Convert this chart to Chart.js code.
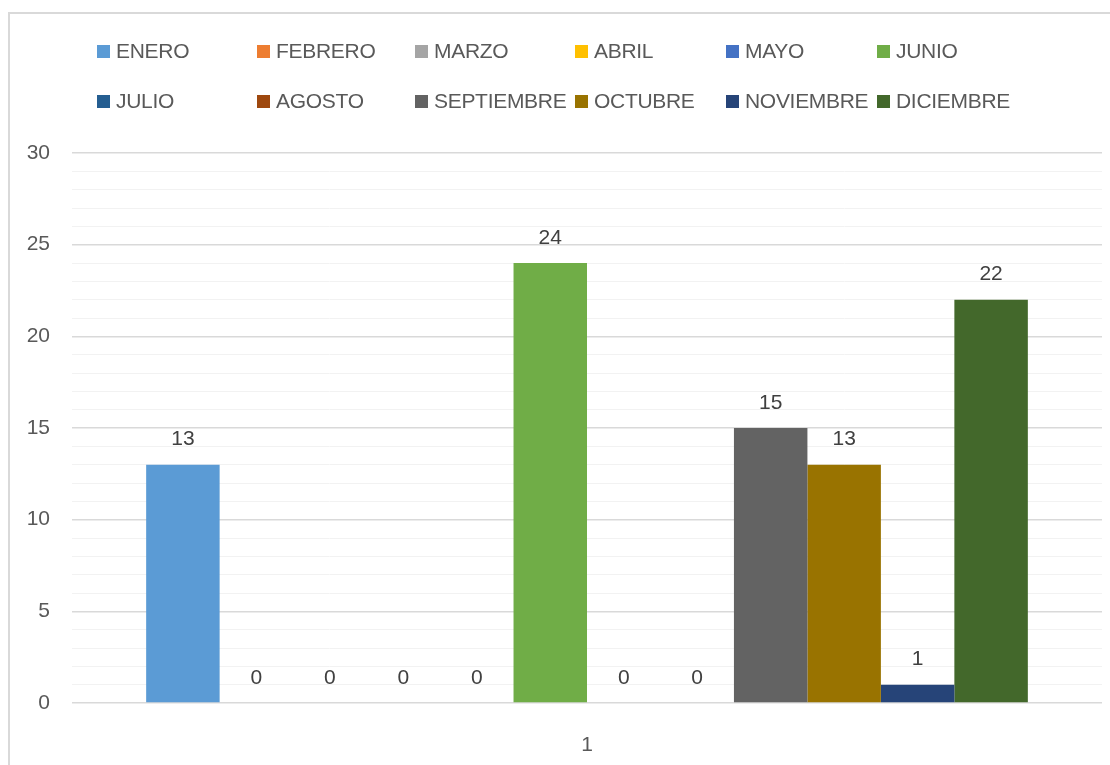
<!DOCTYPE html>
<html lang="es">
<head>
    <meta charset="UTF-8">
    <title>Meses</title>
    <script src="https://cdn.jsdelivr.net/npm/chart.js"></script>
    <style>
        html, body { margin: 0; padding: 0; background: #fff; }
        body { width: 1110px; height: 765px; position: relative; overflow: hidden;
               font-family: "Liberation Sans Narrow", "Liberation Sans", sans-serif; }
        .frame { position: absolute; left: 8px; top: 12px; right: -10px; bottom: -10px;
                 border-left: 2px solid #d9d9d9; border-top: 2px solid #d9d9d9; }
        #chartBox { position: absolute; left: 0; top: 0; width: 1110px; height: 765px; }
        #legend { position: absolute; left: 97px; top: 38px; display: grid;
                  grid-template-columns: 160px 158px 160px 151px 151px 200px;
                  grid-auto-rows: 50px; color: #595959; font-size: 21px; }
        #legend .item { display: flex; align-items: flex-start; white-space: nowrap; }
        #legend .sw { width: 13px; height: 13px; margin-top: 7px; margin-right: 6px; flex: none; }
        #legend .tx { line-height: 26px; letter-spacing: -0.3px; }
    </style>
</head>
<body>
    <div class="frame"></div>
    <div id="chartBox"><canvas id="monthChart"></canvas></div>
    <div id="legend"></div>

    <script>
        const categories = ['1'];
        const months = ['ENERO', 'FEBRERO', 'MARZO', 'ABRIL', 'MAYO', 'JUNIO',
                        'JULIO', 'AGOSTO', 'SEPTIEMBRE', 'OCTUBRE', 'NOVIEMBRE', 'DICIEMBRE'];
        const monthValues = [13, 0, 0, 0, 0, 24, 0, 0, 15, 13, 1, 22];
        const monthColors = ['#5B9BD5', '#ED7D31', '#A5A5A5', '#FFC000', '#4472C4', '#70AD47',
                             '#255E91', '#9E480E', '#636363', '#997300', '#264478', '#43682B'];
        const yTicks = [0, 5, 10, 15, 20, 25, 30];

        const fontFamily = '"Liberation Sans Narrow", "Liberation Sans", sans-serif';

        // html legend, laid out in fixed columns like the original
        const legendEl = document.getElementById('legend');
        months.forEach((m, i) => {
            const item = document.createElement('div');
            item.className = 'item';
            item.innerHTML = `<span class="sw" style="background:${monthColors[i]}"></span><span class="tx">${m}</span>`;
            legendEl.appendChild(item);
        });

        const valueLabels = {
            id: 'valueLabels',
            afterDatasetsDraw(chart) {
                const ctx = chart.ctx;
                ctx.save();
                ctx.font = '21px ' + fontFamily;
                ctx.fillStyle = '#404040';
                ctx.textAlign = 'center';
                ctx.textBaseline = 'middle';
                chart.data.datasets.forEach((ds, i) => {
                    chart.getDatasetMeta(i).data.forEach((bar, j) => {
                        ctx.fillText(ds.data[j], bar.x, bar.y - 25);
                    });
                });
                ctx.restore();
            }
        };

        const ctx = document.getElementById('monthChart').getContext('2d');
        new Chart(ctx, {
            type: 'bar',
            data: {
                labels: categories,
                datasets: months.map((m, i) => ({
                    label: m,
                    data: [monthValues[i]],
                    backgroundColor: monthColors[i],
                    borderWidth: 0,
                    categoryPercentage: 0.856,
                    barPercentage: 1
                }))
            },
            options: {
                responsive: true,
                maintainAspectRatio: false,
                animation: false,
                layout: { padding: { left: 0, right: 8, top: 153, bottom: 0 } },
                plugins: {
                    legend: { display: false },
                    tooltip: { enabled: false }
                },
                scales: {
                    x: {
                        grid: { display: false, drawTicks: false },
                        border: { display: false },
                        ticks: { color: '#595959', font: { family: fontFamily, size: 21 }, padding: 30 },
                        afterFit(scale) { scale.height = 62; }
                    },
                    y: {
                        min: 0,
                        max: 30,
                        grid: {
                            drawTicks: false,
                            color: c => yTicks.includes(c.tick.value) ? '#d9d9d9' : '#f2f2f2',
                            lineWidth: c => yTicks.includes(c.tick.value) ? 1.5 : 1
                        },
                        border: { display: false },
                        ticks: {
                            stepSize: 1,
                            autoSkip: false,
                            padding: 22,
                            color: '#595959',
                            font: { family: fontFamily, size: 21 },
                            callback: v => yTicks.includes(v) ? v : ''
                        },
                        afterFit(scale) { scale.width = 72; }
                    }
                }
            },
            plugins: [valueLabels]
        });
    </script>
</body>
</html>
